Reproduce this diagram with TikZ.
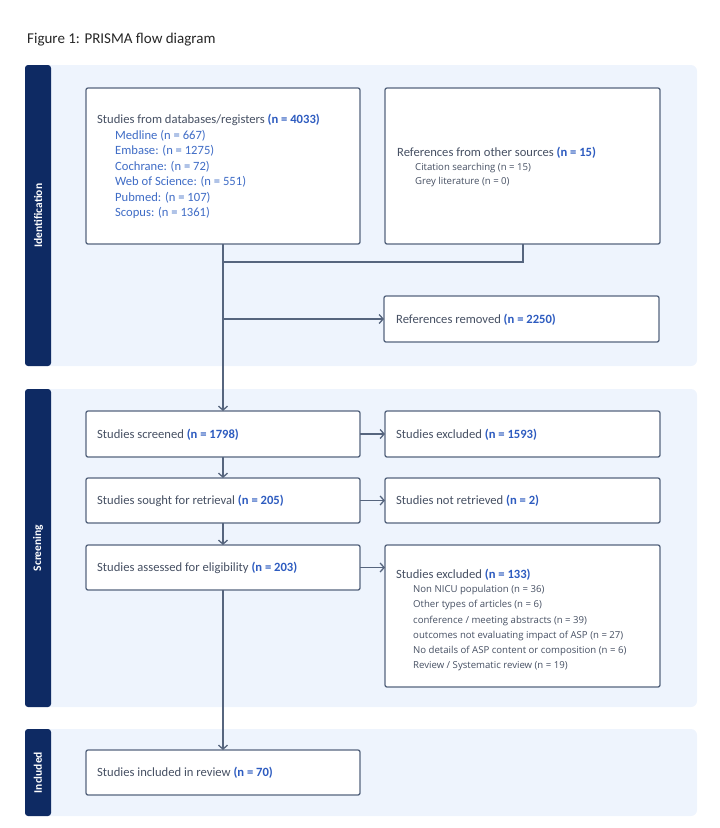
\documentclass[tikz,border=0pt]{standalone}
\usepackage{fontspec}
\setmainfont{Carlito}
\newfontfamily\smallfont{Open Sans}
\usetikzlibrary{arrows.meta}
\definecolor{navy}{HTML}{0E2A63}
\definecolor{bandbg}{HTML}{EEF4FD}
\definecolor{edge}{HTML}{56657E}
\definecolor{txt}{HTML}{465063}
\definecolor{nblue}{HTML}{2E5CC0}
\definecolor{subblue}{HTML}{3F6CC6}
\newcommand{\nv}[1]{\textcolor{nblue}{\bfseries #1}}
\tikzset{
  box/.style={draw=edge, line width=1.3pt, fill=white, rounded corners=2pt},
  band/.style={fill=bandbg, rounded corners=6pt},
  tab/.style={fill=navy, rounded corners=3pt},
  tabtext/.style={text=white, rotate=90, font=\fontsize{11.5}{12}\selectfont\bfseries},
  flow/.style={draw=edge, line width=1.3pt},
  arr/.style={flow, -{Straight Barb[length=4pt,width=9pt,line width=1.3pt]}},
  maintext/.style={anchor=west, text=txt, font=\fontsize{12.6}{14}\selectfont, inner sep=0pt},
  subtext/.style={anchor=west, text=txt, font=\smallfont\fontsize{9.6}{11}\selectfont, inner sep=0pt},
}
\begin{document}
\begin{tikzpicture}[x=1pt,y=-1pt]
\useasboundingbox (0,0) rectangle (720,828);
\node[anchor=west, inner sep=0pt, text=black!85, font=\fontsize{15}{17}\selectfont] (title) at (27,40) {Figure 1: PRISMA flow diagram};
% bands
\fill[band] (40,65) rectangle (697,366);
\fill[band] (40,389) rectangle (697,707);
\fill[band] (40,729) rectangle (697,816);
\fill[tab] (25,65) rectangle (51,366);
\fill[tab] (25,389) rectangle (51,707);
\fill[tab] (25,729) rectangle (51,816);
\node[tabtext] (tid) at (38,215.5) {Identification};
\node[tabtext] (tsc) at (38,548) {Screening};
\node[tabtext] (tin) at (38,772.5) {Included};
% boxes
\draw[box] (86,88) rectangle (360,244);
\coordinate (dbtop) at (223,88); \coordinate (dbbot) at (223,244);
\draw[box] (385,88) rectangle (660,244);
\coordinate (osbot) at (523,244);
\draw[box] (384,296) rectangle (659,342);
\coordinate (remL) at (384,319);
\draw[box] (86,411) rectangle (360,457);
\draw[box] (385,411) rectangle (660,457);
\draw[box] (86,478) rectangle (360,523);
\draw[box] (385,478) rectangle (660,523);
\draw[box] (86,545) rectangle (360,590);
\draw[box] (385,545) rectangle (660,687);
\draw[box] (86,750) rectangle (360,795);
% texts
\node[maintext] (db0) at (97,120) {Studies from databases/registers \nv{(n = 4033)}};
\node[maintext, text=subblue] (db1) at (115,135.5) {Medline (n = 667)};
\node[maintext, text=subblue] (db2) at (115,151) {Embase: (n = 1275)};
\node[maintext, text=subblue] (db3) at (115,166.5) {Cochrane: (n = 72)};
\node[maintext, text=subblue] (db4) at (115,182) {Web of Science: (n = 551)};
\node[maintext, text=subblue] (db5) at (115,197.5) {Pubmed: (n = 107)};
\node[maintext, text=subblue] (db6) at (115,213) {Scopus: (n = 1361)};
\node[maintext] (os0) at (397,153) {References from other sources \nv{(n = 15)}};
\node[subtext] (os1) at (415,168) {Citation searching (n = 15)};
\node[subtext] (os2) at (415,182) {Grey literature (n = 0)};
\node[maintext] (rem) at (396,320) {References removed \nv{(n = 2250)}};
\node[maintext] (scr) at (97,435) {Studies screened \nv{(n = 1798)}};
\node[maintext] (exc) at (396,435) {Studies excluded \nv{(n = 1593)}};
\node[maintext] (sou) at (97,501) {Studies sought for retrieval \nv{(n = 205)}};
\node[maintext] (nre) at (396,501) {Studies not retrieved \nv{(n = 2)}};
\node[maintext] (ass) at (97,568) {Studies assessed for eligibility \nv{(n = 203)}};
\node[maintext] (ex0) at (396,575) {Studies excluded \nv{(n = 133)}};
\node[subtext] (ex1) at (413,590) {Non NICU population (n = 36)};
\node[subtext] (ex2) at (413,605.3) {Other types of articles (n = 6)};
\node[subtext] (ex3) at (413,620.6) {conference / meeting abstracts (n = 39)};
\node[subtext] (ex4) at (413,635.9) {outcomes not evaluating impact of ASP (n = 27)};
\node[subtext] (ex5) at (413,651.2) {No details of ASP content or composition (n = 6)};
\node[subtext] (ex6) at (413,666.5) {Review / Systematic review (n = 19)};
\node[maintext] (inc) at (97,773) {Studies included in review \nv{(n = 70)}};
% connectors
\coordinate (merge) at (223,262);
\coordinate (branch) at (223,319);
\coordinate (scrtop) at (223,411);
\draw[flow] (osbot) |- (merge);
\draw[arr] (dbbot) -- (scrtop);
\draw[arr] (branch) -- (remL);
\draw[arr] (360,434) -- (385,434);
\draw[arr] (360,500.5) -- (385,500.5);
\draw[arr] (360,567.5) -- (385,567.5);
\draw[arr] (223,457) -- (223,478);
\draw[arr] (223,523) -- (223,545);
\draw[arr] (223,590) -- (223,750);
\end{tikzpicture}
\end{document}
